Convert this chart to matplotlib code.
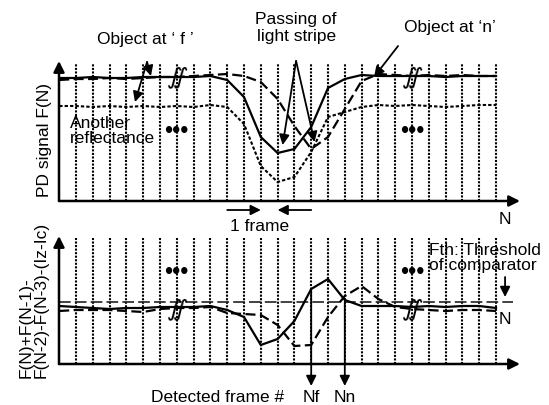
import numpy as np
import matplotlib.pyplot as plt

plt.rcParams['font.family'] = ['Liberation Sans', 'DejaVu Sans']
plt.rcParams['font.size'] = 12.5

# Data (schematic): frame index -1 sits on the y-axis, lines drawn at 0..25
frames = np.arange(-1, 26)
grid_frames = np.arange(0, 26)

# PD signal F(N)
pd_object_f = [12.3, 12.3, 12.4, 12.3, 12.3, 12.4, 12.4, 12.4, 12.4, 12.5,
               12.1, 10.4, 6.4, 4.8, 5.2, 7.4, 11.3, 12.2, 12.6, 12.5,
               12.5, 12.5, 12.5, 12.4, 12.5, 12.5, 12.5]
pd_object_n = [12.1, 12.2, 12.2, 12.3, 12.2, 12.3, 12.4, 12.4, 12.5, 12.6,
               12.7, 12.5, 11.9, 10.2, 7.5, 5.2, 6.4, 9.2, 12.0, 12.7,
               12.6, 12.5, 12.6, 12.5, 12.6, 12.5, 12.5]
pd_other_refl = [9.5, 9.5, 9.4, 9.5, 9.4, 9.5, 9.4, 9.5, 9.4, 9.6,
                 9.4, 7.7, 3.5, 1.9, 2.4, 4.9, 8.4, 8.9, 9.4, 9.6,
                 9.5, 9.6, 9.5, 9.4, 9.5, 9.6, 9.6]

# F(N)+F(N-1)-F(N-2)-F(N-3)-(Iz-Ic)
diff_object_f = [5.8, 5.7, 5.6, 5.5, 5.6, 5.6, 5.7, 5.7, 5.7, 5.8,
                 5.4, 4.7, 1.9, 2.5, 4.3, 7.5, 8.5, 6.4, 5.8, 5.8,
                 5.8, 5.7, 5.8, 5.7, 5.8, 5.8, 5.6]
diff_object_n = [5.3, 5.4, 5.4, 5.4, 5.3, 5.2, 5.5, 5.6, 5.6, 5.7,
                 5.1, 5.0, 4.9, 3.9, 1.8, 1.9, 4.7, 6.8, 7.8, 6.5,
                 5.7, 5.5, 5.4, 5.3, 5.4, 5.4, 5.3]
threshold = 6.2
nf_frame = 14
nn_frame = 16

fig = plt.figure(figsize=(5.49, 4.06), dpi=100)
W, H = 549, 406
ax1 = fig.add_axes([59 / W, 1 - 202 / H, 461 / W, 140 / H])
ax2 = fig.add_axes([59 / W, 1 - 365 / H, 461 / W, 128 / H])

x0, x1 = (59 - 76) / 16.8, (520 - 76) / 16.8
dash = (0, (4.5, 2))
dot_curve = (0, (1.6, 1.0))
grid_style = (0, (1, 0.7))
arr = dict(arrowstyle='-|>', color='k', lw=1.3, mutation_scale=15, shrinkA=0, shrinkB=0)
ax_arr = dict(arrowstyle='-|>', color='k', lw=1.8, mutation_scale=16, shrinkA=0, shrinkB=0)


def break_mark(ax, x, y):
    for dx in (-0.17, 0.17):
        ax.text(x + dx, y, '\u222b', ha='center', va='center', fontsize=17,
                family='DejaVu Sans', rotation=-12)


for ax, top in [(ax1, 14.0), (ax2, 12.8)]:
    ax.set_xlim(x0, x1)
    ax.set_ylim(0, top)
    ax.axis('off')
    ax.vlines(grid_frames, 0, top * 0.985, colors='k', linestyles=grid_style, lw=1.5)
    # axes with arrow heads
    ax.annotate('', xy=(0, 1), xytext=(0, 0), xycoords='axes fraction',
                arrowprops=ax_arr, annotation_clip=False)
    ax.annotate('', xy=(1, 0), xytext=(0, 0), xycoords='axes fraction',
                arrowprops=ax_arr, annotation_clip=False)

# upper panel
ax1.plot(frames, pd_object_f, color='k', lw=1.6)
ax1.plot(frames, pd_object_n, color='k', lw=1.6, linestyle=dash)
ax1.plot(frames, pd_other_refl, color='k', lw=1.5, linestyle=dot_curve)

ax1.text(4.1, 16.2, 'Object at \u2018 f \u2019', ha='center', va='center')
ax1.annotate('', xy=(4.46, 12.5), xytext=(4.23, 13.9), arrowprops=arr, annotation_clip=False)
ax1.annotate('', xy=(3.51, 9.9), xytext=(4.23, 13.9), arrowprops=arr, annotation_clip=False)
ax1.text(13.1, 17.4, 'Passing of\nlight stripe', ha='center', va='center', linespacing=1.1)
ax1.annotate('', xy=(12.3, 5.6), xytext=(13.1, 14.0), arrowprops=arr, annotation_clip=False)
ax1.annotate('', xy=(14.2, 5.9), xytext=(13.1, 14.0), arrowprops=arr, annotation_clip=False)
ax1.text(22.26, 17.4, 'Object at \u2018n\u2019', ha='center', va='center')
ax1.annotate('', xy=(17.74, 12.4), xytext=(19.17, 15.5), arrowprops=arr, annotation_clip=False)
ax1.text(-0.36, 7.1, 'Another\nreflectance', ha='left', va='center', linespacing=1.0)
for fx in (6.0, 20.0):
    ax1.text(fx, 7.0, '\u2022\u2022\u2022', ha='center', va='center', fontsize=17)
    break_mark(ax1, fx, 12.4)
ax1.text(25.54, -1.8, 'N', ha='center', va='center')
ax1.text(10.95, -2.5, '1 frame', ha='center', va='center')
ax1.annotate('', xy=(11, -0.9), xytext=(9, -0.9), arrowprops=arr, annotation_clip=False)
ax1.annotate('', xy=(12, -0.9), xytext=(14, -0.9), arrowprops=arr, annotation_clip=False)

# lower panel
ax2.axhline(threshold, xmax=(513 - 59) / 461, color='#222222', lw=1.2, linestyle=(0, (7, 2.5)))
ax2.plot(frames, diff_object_f, color='k', lw=1.6)
ax2.plot(frames, diff_object_n, color='k', lw=1.6, linestyle=dash)
for fx in (6.0, 20.0):
    ax2.text(fx, 9.2, '\u2022\u2022\u2022', ha='center', va='center', fontsize=17)
    break_mark(ax2, fx, 5.5)
ax2.text(21.0, 10.65, 'Fth: Threshold\nof comparator', ha='left', va='center', linespacing=1.0)
ax2.annotate('', xy=(25.54, 6.7), xytext=(25.54, 8.7), arrowprops=arr, annotation_clip=False)
ax2.text(25.54, 4.5, 'N', ha='center', va='center')
ax2.annotate('', xy=(nf_frame, -2.2), xytext=(nf_frame, diff_object_f[nf_frame + 1]),
             arrowprops=arr, annotation_clip=False)
ax2.annotate('', xy=(nn_frame, -2.2), xytext=(nn_frame, threshold),
             arrowprops=arr, annotation_clip=False)
ax2.text(nf_frame, -3.3, 'Nf', ha='center', va='center')
ax2.text(nn_frame, -3.3, 'Nn', ha='center', va='center')
ax2.text(8.45, -3.3, 'Detected frame #', ha='center', va='center')

fig.text(45 / W, 1 - 140 / H, 'PD signal F(N)', rotation=90, ha='center', va='center')
fig.text(34 / W, 1 - 300 / H, 'F(N)+F(N-1)-\nF(N-2)-F(N-3)-(Iz-Ic)', rotation=90,
         ha='center', va='center', multialignment='left', linespacing=1.0)

fig.savefig('out.png', dpi=100)
